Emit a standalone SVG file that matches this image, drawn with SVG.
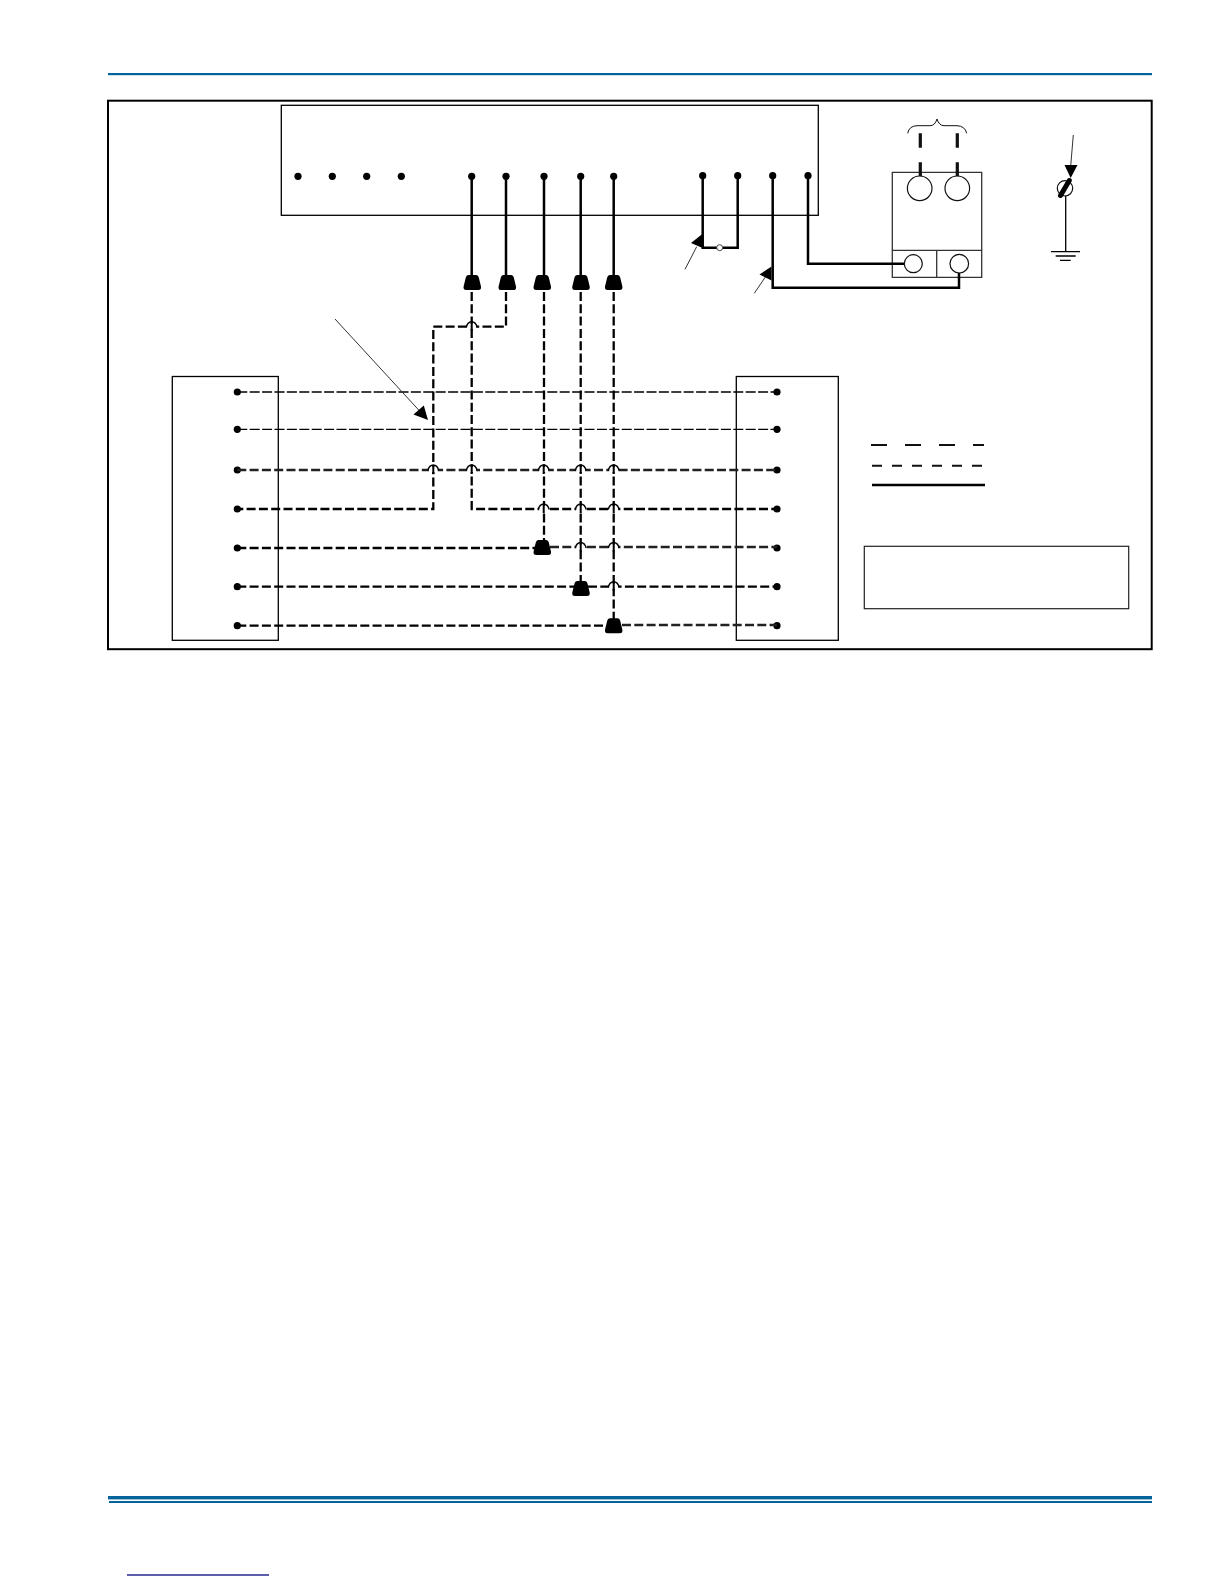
<svg xmlns="http://www.w3.org/2000/svg" width="1224" height="1584" viewBox="0 0 1224 1584">
<defs>
<style>
.box{fill:none;stroke:#000;stroke-width:1.300}
.grey{fill:none;stroke:#333;stroke-width:1.300}
.solid{fill:none;stroke:#000;stroke-width:2.500}
.stub{fill:none;stroke:#111;stroke-width:3.200}
.dash{fill:none;stroke:#000;stroke-width:2.300;stroke-dasharray:9 3.3}
.dashg{fill:none;stroke:#222;stroke-width:2.300;stroke-dasharray:9 3.3}
.thin{fill:none;stroke:#000;stroke-width:1.300;stroke-dasharray:10 2.400}
.hop{fill:none;stroke:#000;stroke-width:1.500}
.cross{fill:none;stroke:#000;stroke-width:2}
.lead{fill:none;stroke:#333;stroke-width:1}
.blue{fill:#05639c}
.circ{fill:#fff;stroke:#111;stroke-width:1.200}
.mask{fill:#fff}
</style>
<circle id="dot" r="3.600" fill="#000"/>
<path id="nut" d="M-4-7.500H4Q6-7.500 6.500-5L8.700 4Q9.200 7.500 6 7.500H-6Q-9.200 7.500-8.700 4L-6.500-5Q-6-7.500-4-7.500Z" fill="#000"/>
<g id="hop">
<rect class="mask" x="-4.500" y="-3" width="9" height="5"/>
<path class="cross" d="M0-5V4"/>
<path class="hop" d="M-5.500 .5Q-4-5 0-5Q4-5 5.500 .5"/>
</g>
</defs>
<rect width="1224" height="1584" fill="#fff"/>
<g id="page-rules">
<rect class="blue" x="108" y="73" width="1044" height="2.200"/>
<rect class="blue" x="108" y="1496" width="1044" height="3.400"/>
<rect class="blue" x="109" y="1501" width="1043" height="2"/>
<rect x="127" y="1574.300" width="142" height="1.400" fill="#1a1a8c"/>
</g>
<g id="frame"><rect x="108" y="100.700" width="1043.700" height="548.500" fill="none" stroke="#000" stroke-width="2"/></g>
<g id="terminal-board">
<rect class="box" x="281.300" y="105.300" width="537" height="110"/>
<use href="#dot" x="298" y="176.300"/><use href="#dot" x="332.300" y="176.300"/><use href="#dot" x="366.700" y="176.300"/><use href="#dot" x="401.300" y="176.300"/>
<use href="#dot" x="471.700" y="176.300"/><use href="#dot" x="506" y="176.300"/><use href="#dot" x="544" y="176.300"/><use href="#dot" x="580.700" y="176.300"/><use href="#dot" x="613.700" y="176.300"/>
<use href="#dot" x="702.700" y="175.700"/><use href="#dot" x="737.700" y="175.700"/><use href="#dot" x="772.700" y="175.700"/><use href="#dot" x="808" y="175.700"/>
</g>
<g id="left-block">
<rect class="box" x="172.300" y="376.500" width="106" height="263.800"/>
<use href="#dot" x="237.300" y="392"/><use href="#dot" x="237.300" y="429.300"/><use href="#dot" x="237.300" y="470"/><use href="#dot" x="237.300" y="509"/><use href="#dot" x="237.300" y="548"/><use href="#dot" x="237.300" y="586.700"/><use href="#dot" x="237.300" y="625.700"/>
</g>
<g id="right-block">
<rect class="box" x="736.300" y="376.500" width="102" height="263.800"/>
<use href="#dot" x="777" y="392"/><use href="#dot" x="777" y="429.300"/><use href="#dot" x="777" y="470"/><use href="#dot" x="777" y="509"/><use href="#dot" x="777" y="548"/><use href="#dot" x="777" y="586.700"/><use href="#dot" x="777" y="625.700"/>
</g>
<g id="switch-box">
<path class="grey" d="M892.300 172.300H981.700V277.300H892.300ZM892.300 250.300H981.700M936.700 250.300V277.300"/>
</g>
<g id="connectors">
<path class="solid" d="M471.700 176V277M506 176V277M544 176V277M580.700 176V277M613.700 176V277"/>
<path class="solid" d="M702.700 176V247.700H737.700V176"/>
<path class="solid" d="M772.700 176V287.700H959V272M808 176V263.700H905"/>
<path class="stub" d="M920.300 133.300V147.700M920.300 162.300V177M957.300 133.300V147.700M957.300 162.300V177"/>
<path class="thin" d="M237.300 392H777M237.300 429.300H777"/>
<path class="dash" d="M471.700 292V509H777"/>
<path class="dash" d="M506 292V326.700H433.300V509H237.300"/>
<path class="dash" d="M544 292V541M580.700 292V582M613.700 292V619"/>
<path class="dashg" d="M237.300 470H777"/>
<path class="dash" d="M237.300 548H535"/>
<path class="dashg" d="M550 547H777"/>
<path class="dash" d="M237.300 586.700H574M588 586.700H777"/>
<path class="dash" d="M237.300 625.700H606"/>
<path class="dashg" d="M622 625H777"/>
<use href="#hop" x="471.700" y="326.700"/>
<use href="#hop" x="433.300" y="470"/><use href="#hop" x="471.700" y="470"/><use href="#hop" x="543.700" y="470"/><use href="#hop" x="580.700" y="470"/><use href="#hop" x="613.700" y="470"/>
<use href="#hop" x="543.700" y="509"/><use href="#hop" x="580.700" y="509"/><use href="#hop" x="613.700" y="509"/>
<use href="#hop" x="580.700" y="547.500"/><use href="#hop" x="613.700" y="547.500"/>
<use href="#hop" x="613.700" y="586.700"/>
<path class="box" d="M1065.700 196V251.700M1051 251.700H1080M1055.700 256H1075.700M1060 260.300H1070.700"/>
<path d="M907.700 133.300Q909 126 917 125.700H930Q935 125.700 937 119Q939 125.700 944 125.700H957Q965 126 966.700 133.300" fill="none" stroke="#111" stroke-width="1"/>
<path class="lead" d="M1073.300 135L1070.700 166M685 269.300L696.700 246.700M754.300 293.300L766.700 275M335 319L423.300 415"/>
</g>
<g id="wire-nuts">
<use href="#nut" x="472.300" y="282.500"/><use href="#nut" x="507.300" y="282.500"/><use href="#nut" x="542.300" y="282.500"/><use href="#nut" x="581" y="282.500"/><use href="#nut" x="613.700" y="282.500"/>
<use href="#nut" x="542.300" y="547.500"/><use href="#nut" x="581" y="588.500"/><use href="#nut" x="613.700" y="625.700"/>
</g>
<g id="arrowheads" fill="#000">
<path d="M703 233.500L703.800 248.500L691 243Z"/>
<path d="M771.500 266.500L771.500 280.500L759.500 274.500Z"/>
<path d="M1064.500 165H1077.500L1070.700 178Z"/>
<path d="M428 420L413.500 414.500L423.800 405.500Z"/>
</g>
<g id="circles">
<circle class="circ" cx="919.700" cy="188.300" r="12.300"/><circle class="circ" cx="957.300" cy="188.300" r="12.300"/>
<circle class="circ" cx="913.300" cy="263.700" r="9"/><circle class="circ" cx="959.300" cy="263.700" r="9.300"/>
<circle cx="719.700" cy="247.700" r="3" fill="#fff" stroke="#333" stroke-width=".9"/>
<circle class="circ" cx="1065" cy="188.300" r="7.700"/>
<path d="M1069.300 180.500L1060.500 195.500" stroke="#000" stroke-width="5" stroke-linecap="round"/>
</g>
<g id="legend">
<path fill="none" stroke="#111" stroke-width="2" stroke-dasharray="16 18" d="M871 445H984"/>
<path fill="none" stroke="#111" stroke-width="2" stroke-dasharray="10 10" d="M872 465.700H982.300"/>
<path fill="none" stroke="#000" stroke-width="2.600" d="M872 485H985"/>
<rect x="864.300" y="546.300" width="264.400" height="62.400" fill="none" stroke="#222" stroke-width="1.200"/>
</g>
</svg>
